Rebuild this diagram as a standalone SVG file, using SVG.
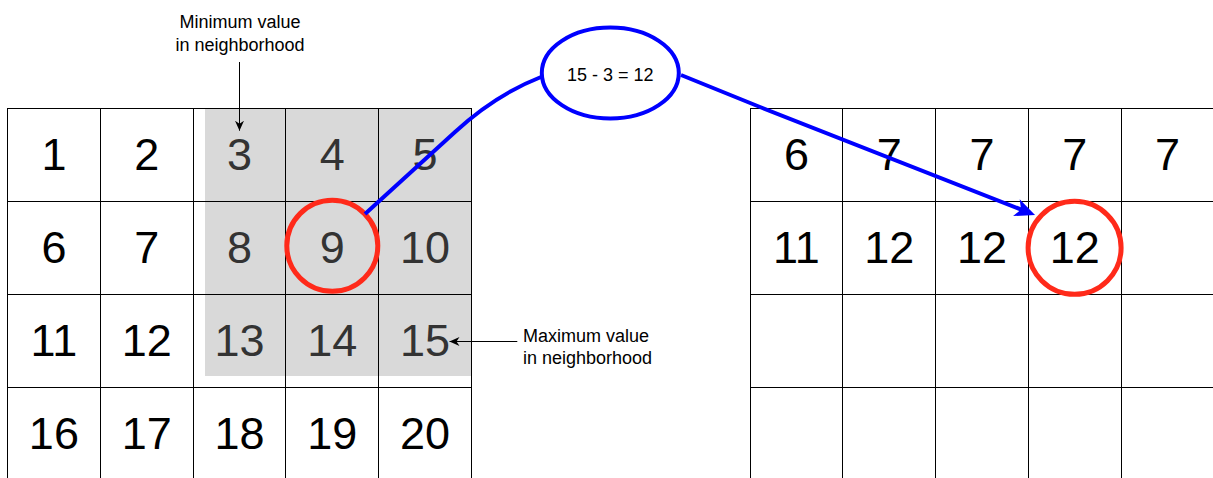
<svg xmlns="http://www.w3.org/2000/svg" width="1213" height="478" viewBox="0 0 1213 478">
<style>
.cell{fill:none;stroke:#000;stroke-width:1}
.num{font-family:"Liberation Sans",Arial,sans-serif;font-size:45px;text-anchor:middle;fill:#000}
.g{fill:#333}
.lbl{font-family:"Liberation Sans",Arial,sans-serif;font-size:18px;fill:#000}
.hl{fill:none;stroke:#ff2a1a;stroke-width:5}
.blue{fill:none;stroke:#0000ff;stroke-width:4}
.thin{fill:none;stroke:#000;stroke-width:1}
</style>
<defs>
<marker id="arrS" viewBox="0 0 10 10" refX="10" refY="5" markerWidth="10" markerHeight="10" markerUnits="userSpaceOnUse" orient="auto">
<path d="M0,0.5 L10,5 L0,9.5 L3,5 Z" fill="#000"/>
</marker>
<marker id="arrB" viewBox="0 0 22 20" refX="11" refY="10" markerWidth="22" markerHeight="20" markerUnits="userSpaceOnUse" orient="auto">
<path d="M1,1 L21,10 L1,19 L6,10 Z" fill="#0000ff"/>
</marker>
</defs>
<rect width="1213" height="478" fill="#fff"/>
<g id="neighborhood">
<rect x="205" y="108.5" width="266.5" height="267.5" fill="#d9d9d9"/>
</g>
<g id="input-grid">
<g id="in-r1">
<rect class="cell" x="7.5" y="108.5" width="93" height="93"/><text class="num" x="53.9" y="170.3">1</text>
<rect class="cell" x="100.5" y="108.5" width="93" height="93"/><text class="num" x="146.7" y="170.3">2</text>
<rect class="cell" x="193.5" y="108.5" width="92" height="93"/><text class="num g" x="239.5" y="170.3">3</text>
<rect class="cell" x="285.5" y="108.5" width="93" height="93"/><text class="num g" x="332.3" y="170.3">4</text>
<rect class="cell" x="378.5" y="108.5" width="93" height="93"/><text class="num g" x="425.1" y="170.3">5</text>
</g>
<g id="in-r2">
<rect class="cell" x="7.5" y="201.5" width="93" height="93"/><text class="num" x="53.9" y="263.3">6</text>
<rect class="cell" x="100.5" y="201.5" width="93" height="93"/><text class="num" x="146.7" y="263.3">7</text>
<rect class="cell" x="193.5" y="201.5" width="92" height="93"/><text class="num g" x="239.5" y="263.3">8</text>
<rect class="cell" x="285.5" y="201.5" width="93" height="93"/><text class="num g" x="332.3" y="263.3">9</text>
<rect class="cell" x="378.5" y="201.5" width="93" height="93"/><text class="num g" x="425.1" y="263.3">10</text>
</g>
<g id="in-r3">
<rect class="cell" x="7.5" y="294.5" width="93" height="93"/><text class="num" x="53.9" y="356.3">11</text>
<rect class="cell" x="100.5" y="294.5" width="93" height="93"/><text class="num" x="146.7" y="356.3">12</text>
<rect class="cell" x="193.5" y="294.5" width="92" height="93"/><text class="num g" x="239.5" y="356.3">13</text>
<rect class="cell" x="285.5" y="294.5" width="93" height="93"/><text class="num g" x="332.3" y="356.3">14</text>
<rect class="cell" x="378.5" y="294.5" width="93" height="93"/><text class="num g" x="425.1" y="356.3">15</text>
</g>
<g id="in-r4">
<rect class="cell" x="7.5" y="387.5" width="93" height="93"/><text class="num" x="53.9" y="449.3">16</text>
<rect class="cell" x="100.5" y="387.5" width="93" height="93"/><text class="num" x="146.7" y="449.3">17</text>
<rect class="cell" x="193.5" y="387.5" width="92" height="93"/><text class="num" x="239.5" y="449.3">18</text>
<rect class="cell" x="285.5" y="387.5" width="93" height="93"/><text class="num" x="332.3" y="449.3">19</text>
<rect class="cell" x="378.5" y="387.5" width="93" height="93"/><text class="num" x="425.1" y="449.3">20</text>
</g>
</g>
<g id="output-grid">
<g id="out-r1">
<rect class="cell" x="750.5" y="108.5" width="92" height="93"/><text class="num" x="796.4" y="170.3">6</text>
<rect class="cell" x="842.5" y="108.5" width="93" height="93"/><text class="num" x="889.2" y="170.3">7</text>
<rect class="cell" x="935.5" y="108.5" width="93" height="93"/><text class="num" x="982" y="170.3">7</text>
<rect class="cell" x="1028.5" y="108.5" width="93" height="93"/><text class="num" x="1074.8" y="170.3">7</text>
<rect class="cell" x="1121.5" y="108.5" width="93" height="93"/><text class="num" x="1167.6" y="170.3">7</text>
</g>
<g id="out-r2">
<rect class="cell" x="750.5" y="201.5" width="92" height="93"/><text class="num" x="796.4" y="263.3">11</text>
<rect class="cell" x="842.5" y="201.5" width="93" height="93"/><text class="num" x="889.2" y="263.3">12</text>
<rect class="cell" x="935.5" y="201.5" width="93" height="93"/><text class="num" x="982" y="263.3">12</text>
<rect class="cell" x="1028.5" y="201.5" width="93" height="93"/><text class="num" x="1074.8" y="263.3">12</text>
<rect class="cell" x="1121.5" y="201.5" width="93" height="93"/>
</g>
<g id="out-r3">
<rect class="cell" x="750.5" y="294.5" width="92" height="93"/>
<rect class="cell" x="842.5" y="294.5" width="93" height="93"/>
<rect class="cell" x="935.5" y="294.5" width="93" height="93"/>
<rect class="cell" x="1028.5" y="294.5" width="93" height="93"/>
<rect class="cell" x="1121.5" y="294.5" width="93" height="93"/>
</g>
<g id="out-r4">
<rect class="cell" x="750.5" y="387.5" width="92" height="93"/>
<rect class="cell" x="842.5" y="387.5" width="93" height="93"/>
<rect class="cell" x="935.5" y="387.5" width="93" height="93"/>
<rect class="cell" x="1028.5" y="387.5" width="93" height="93"/>
<rect class="cell" x="1121.5" y="387.5" width="93" height="93"/>
</g>
</g>
<g id="center-highlight"><circle class="hl" cx="332.3" cy="245.8" r="45.5"/></g>
<g id="result-highlight"><circle class="hl" cx="1074.6" cy="247.8" r="46.5"/></g>
<g id="min-label"><text class="lbl" text-anchor="middle" x="240" y="28.3">Minimum value</text><text class="lbl" text-anchor="middle" x="240" y="50.5">in neighborhood</text></g>
<g id="max-label"><text class="lbl" x="523" y="341.7">Maximum value</text><text class="lbl" x="523" y="363.7">in neighborhood</text></g>
<g id="connectors">
<path class="thin" d="M239.5,62 L239.5,130.7" marker-end="url(#arrS)"/>
<path class="thin" d="M517.3,341.5 L449.5,341.5" marker-end="url(#arrS)"/>
<path class="blue" d="M365,214 L455,132 Q495,95 541,77"/>
<path class="blue" d="M681,75 Q718,90 760,107 L1025.7,211.3" marker-end="url(#arrB)"/>
</g>
<g id="formula">
<ellipse cx="610.3" cy="73" rx="68.5" ry="45.5" fill="#fff" stroke="#0000ff" stroke-width="4"/>
<text class="lbl" text-anchor="middle" x="610.3" y="81">15 - 3 = 12</text>
</g>
</svg>
